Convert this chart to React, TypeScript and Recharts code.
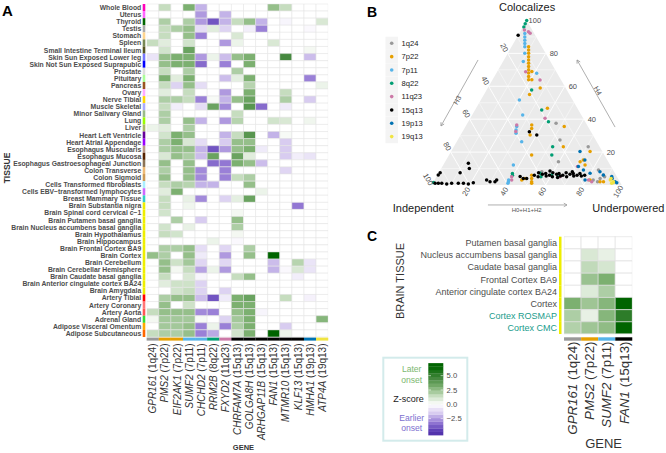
import React from 'react';
import { BarChart, Bar, XAxis, YAxis, Cell, ComposedChart, Area, Scatter, ReferenceLine } from 'recharts';

const FONT = '"Liberation Sans", Arial, Helvetica, sans-serif';

// ---------- Panel A data ----------
const tissues = [
  'Whole Blood', 'Uterus', 'Thyroid', 'Testis', 'Stomach', 'Spleen', 'Small Intestine Terminal Ileum',
  'Skin Sun Exposed Lower leg', 'Skin Not Sun Exposed Suprapubic', 'Prostate', 'Pituitary', 'Pancreas',
  'Ovary', 'Nerve Tibial', 'Muscle Skeletal', 'Minor Salivary Gland', 'Lung', 'Liver', 'Heart Left Ventricle',
  'Heart Atrial Appendage', 'Esophagus Muscularis', 'Esophagus Mucosa', 'Esophagus Gastroesophageal Junction',
  'Colon Transverse', 'Colon Sigmoid', 'Cells Transformed fibroblasts', 'Cells EBV\u2212transformed lymphocytes',
  'Breast Mammary Tissue', 'Brain Substantia nigra', 'Brain Spinal cord cervical c\u22121',
  'Brain Putamen basal ganglia', 'Brain Nucleus accumbens basal ganglia', 'Brain Hypothalamus',
  'Brain Hippocampus', 'Brain Frontal Cortex BA9', 'Brain Cortex', 'Brain Cerebellum',
  'Brain Cerebellar Hemisphere', 'Brain Caudate basal ganglia', 'Brain Anterior cingulate cortex BA24',
  'Brain Amygdala', 'Artery Tibial', 'Artery Coronary', 'Artery Aorta', 'Adrenal Gland',
  'Adipose Visceral Omentum', 'Adipose Subcutaneous',
];
const B = '#EEEE00';
const tissueColors = [
  '#FF00BB', '#FF66FF', '#006600', '#AAAAAA', '#FFD58F', '#778855', '#555522', '#7777FF', '#0000FF',
  '#DDDDDD', '#AAFF99', '#995522', '#FFAAFF', '#FFD700', '#AAAAFF', '#99BB88', '#99FF00', '#AABB66',
  '#660099', '#9900FF', '#BB9988', '#552200', '#8B7355', '#EEBB77', '#CC9955', '#AAEEFF', '#CC66FF',
  '#33CCCC', B, B, B, B, B, B, B, B, B, B, B, B, B, '#FF0000', '#FF7777', '#FF5555', '#33DD33',
  '#FFAA00', '#FF6600',
];
const genesA = ['GPR161', 'PMS2', 'EIF2AK1', 'SUMF2', 'CHCHD2', 'RRM2B', 'FXYD2', 'CHRFAM7A', 'GOLGA8H',
  'ARHGAP11B', 'FAN1', 'MTMR10', 'KLF13', 'HMHA1', 'ATP4A'];
const lociA = ['1q24', '7p22', '7p22', '7p11', '7p11', '8q22', '11q23', '15q13', '15q13', '15q13', '15q13',
  '15q13', '15q13', '19p13', '19q13'];
const zA: number[][] = [
  [0, 1.5, 0, 3, -2, 0, 0, 0, 0, 0, 2.5, 1.5, 0, 0, 0],
  [0, 0, 0, 0, -2.5, 0, -2, 0, 0, 0, 0, 0, 0, 0, 0],
  [0, 2, 0, 2, -2.5, -4, -2, 1.5, 2.5, -2, 0, -0.3, 0, 0, 1],
  [0, 1.5, 2, 2.5, -1, 0.8, -1.3, 0, -0.5, -3, 0, 0, 0, -0.2, 0],
  [0, 1.5, 0, 2.5, -3, 0, 0, 1, 0, 0, 0, 0, 0, 0, 0],
  [1.5, 0.8, 0, 1.2, 0, 0, -2.5, 0.5, 0, 0, 1, 0, 0, 0, 0],
  [0, 1.2, 0, 3.5, 0, 0, 0, 0, 0, 0, 0, 0, 0, 0.3, 0],
  [-0.8, 2.5, 3, 3, -2.5, 0.5, -1.8, 2.5, 3, 0, 0, 4.5, 0, -1.8, 0],
  [0, 2.5, 3, 3, -3.5, 0, -3, 0, 3, 0, 0, 0, 0, 0, 0],
  [0, 1.5, 0, 2, 0, 0, 0, 2, 0, 0, 0, 0, 0, 0, 0],
  [0, 3, 0.8, 3, 0, 0, -1.8, 0.7, 3, 0, 0, 0, 0, -3, 0],
  [0, 1.5, -1.3, 2.5, -1, 0, 0, 0, 1.8, 0, 0, 0, 0, 0, 0.5],
  [0, 0.8, 0, 1.5, 0, 0, -2.5, 0, 3, 0, 0, 1.5, 0, 0, 0],
  [0, 2, 2, 1.5, -3, 0.2, -2, 2.5, 3.5, 0, 0, 2, 0, -1.5, 0],
  [0, 1.5, -0.5, 0, -1, 3.5, -2.8, 0, 4, -3.5, 0, -0.6, 0, 0, 0],
  [0, 2, 0, 0, 0, 0, 0, 1.5, 0, 0, 0, 0, 0, 0, 0],
  [0, 2, 0, 2.5, -2, 0, -2.5, 1.8, 0, 0, 1.2, 1, 0, 0.4, 0],
  [0.5, 0.8, 0, 2, 0, 0, 0, 0, 0, 0, 0, 0, 0, 0, 0],
  [0, 1.2, 3, 2.5, 0, 0, -2, 1.5, 4, 0, -2, 0.2, 0, 0, 0],
  [0, 2, 3, 1, -1, 0, -1.5, 2.5, 2.5, 0, 0, -1.5, 0, 0, 0],
  [0, 2, 2.5, 2.5, -2, -4, -2.5, 2.5, 3, -0.6, 0, -1.5, 0, 0, 0],
  [0, 1, 2.5, 2, -1.8, 3.5, 0, 3.5, 0.8, 0, 0, -1.5, -0.5, -0.8, 0],
  [0, 2.5, 0, 2.5, 0, -3.5, -3.2, 3, 2.5, -1.8, 0, 0, 0, 0, 0],
  [0, 2, 0, 2.5, -2.8, 0, -3, 0, 0, 0, 0, -1.2, 0, 0, 0],
  [0, 2.5, 0, 2.5, -2.8, 0, -3, 1.5, 2, 0, 0, 0, 0, 0, 0],
  [0, 1.5, 2, 1.8, -2, -2, 0, 0, 2.5, 0, 0, 0, 0, 0, 0],
  [0, 0.8, 3, 0, 0, 0, 0, 0, 0, 0.5, 0, 0, 0, 0, 0],
  [0, 1.5, 0, 0.6, -2.8, 0, -1.3, 0.7, 3.5, 0, 0, 0, 0, 0, 0],
  [0, 1.5, 0, 0.4, 0, 0, 0, 0, 0, 0, 0, 0, -3.2, 0, 0],
  [0, 1.2, 0, 0, 0, 0, 0, 0.3, 0, 0, 0, 0, 0, 0, 0],
  [0, 0, 2, 0, -1.5, 0, 0, 2.5, 0, 0, 0, 0, 0, 0, 0],
  [0, 1.2, 0, 0.6, 0, 0, 0, 2, 0, 0, 0, 0, 0, 0, 0],
  [0, 1.5, 1.2, 0, 0, 0, 0, 0.3, 0, 0, 0, 0, 0, 0, 0],
  [0, 0, 0, 0, 0, 0.5, 0, -0.2, 0, 0, 0, 0, 0, 0, 0],
  [0, 2, 2, 2.5, -1, 0, -1.2, 0, 2, 0, 0, 0, 0, 0, 0],
  [2.5, 2, 0, 2.5, -0.6, 0, -2.5, 0, 2.5, 0, 6.5, 0, 0, 0, 0],
  [0, 2.5, 1.3, 2.2, -1.2, 0, -1.2, 0, 0, 0, -1.8, 0, 1.8, -0.8, 0],
  [0, 2.5, 0.3, 1.5, -2.3, 0.5, -2.5, 0, 0, 0, -2, -0.2, 1, -0.8, 0],
  [0, 1.5, 0, 1, -0.3, 0, 0, 1.5, 2.5, 0, 0, 0, -0.5, 0, 0],
  [0, 0.8, 1.3, 1.3, -1.3, 0, 0, 0, 0, 0, 0, 0, 0, 0, 0],
  [0, 0, 1.2, 1.5, -1.3, 0, -1.3, 0, 0, 0, 0, 0, 0, 0, 0],
  [0, 2, 2.5, 2.5, -1.8, -4, -0.6, 3, 3.5, 0, 0, 1.5, 0, -0.4, 0],
  [0, 2.5, 0, 1.3, 0, 0, 0, 3, 3, 0, 0, 0, 0, 0, 0],
  [1.5, 2.5, 2.5, 2.5, -2.8, -3, 0, 2.5, 3, -0.3, 0, 0, 0, 0, 0],
  [0.3, 2.2, 2.2, 2.2, 0.2, 0, -1.3, 2.2, 3, 0, 0, 0, 0, 0, 2.8],
  [0, 2.2, 2.2, 2.5, -3, 0.5, -3, 2, 3, 0, 0, -1.5, 0, 0, 0],
  [1.5, 2, 2, 2.5, -3, -2.2, 0, 1.2, 3, 0, 6.5, 0.5, 0, 0, 0],
];

// ---------- Panel C data ----------
const brainTissuesC = ['Putamen basal ganglia', 'Nucleus accumbens basal ganglia', 'Caudate basal ganglia',
  'Frontal Cortex BA9', 'Anterior cingulate cortex BA24', 'Cortex', 'Cortex ROSMAP', 'Cortex CMC'];
const genesC = ['GPR161', 'PMS2', 'SUMF2', 'FAN1'];
const lociC = ['1q24', '7p22', '7p11', '15q13'];
const zC: number[][] = [
  [0, 0, 0, 0],
  [0, 1.0, 0.6, 0],
  [0, 1.6, 1.1, 0],
  [0, 2.4, 3.0, 0],
  [0, 0.9, 2.0, 0],
  [3.0, 2.3, 2.8, 6.5],
  [2.0, 0.6, 2.8, 5.2],
  [1.9, 2.3, 2.6, 6.5],
];

// ---------- Panel B data: [H4, H0+H1+H2] percentages (H3 = remainder) ----------
const lociB = ['1q24', '7p22', '7p11', '8q22', '11q23', '15q13', '19p13', '19q13'];
const locusColor: Record<string, string> = {
  '1q24': '#999999', '7p22': '#E69F00', '7p11': '#56B4E9', '8q22': '#009E73',
  '11q23': '#CC79A7', '15q13': '#000000', '19p13': '#0072B2', '19q13': '#F0E442',
};
const pts1q24 = [[37.5, 46.7], [27.4, 53.8], [23.3, 70.7], [9.1, 83.2], [4, 86.6], [6, 87.3], [2, 86.3],
  [14.2, 59.6], [8.1, 53.9], [3, 83.5], [5, 88.5]];
const pts7p22 = [[84, 9], [82, 10], [80, 11], [78, 12], [76, 13], [74, 14], [72, 15], [70, 16], [68, 17],
  [66, 18], [64, 19], [69, 18.2], [64, 20.7], [55, 24], [59, 27.6], [46.6, 37.6], [35.5, 52], [36.5, 34.4],
  [34.4, 35.4], [30.4, 36.6], [23.3, 57.6], [18.2, 43.5], [20.3, 73.2], [6, 49.6], [4, 50.6], [2, 51.6],
  [1, 52.1], [3, 45.9], [4, 47.1], [14.2, 71], [15.2, 72.2], [12.2, 74.6], [2, 87.6], [2, 89.4], [3, 81.8]];
const pts7p11 = [[92, 3], [90, 4], [88, 5], [86, 6], [84, 7], [80, 9], [75, 10.7], [67.9, 21.3], [51.7, 20.3],
  [42.6, 26.6], [35.5, 27], [33.4, 27.7], [31.4, 28.7], [26.3, 34.2], [12.2, 36.9], [2, 39.4], [1, 39.6],
  [3, 39]];
const pts8q22 = [[100, 0], [98, 0.2], [96, 0.5], [57.8, 23.7], [45.6, 35.1], [38.5, 42.2], [23.3, 52],
  [18.2, 54.1], [7, 39], [6, 39.5], [7.1, 53.5], [6.1, 60.1], [5.1, 64.1], [1.5, 0.2], [5, 55]];
const pts11q23 = [[94.2, 1.7], [93.2, 4.3], [92.2, 5.7], [68.9, 15], [63.8, 25.1], [40.5, 39.4], [36.5, 26.5],
  [32.5, 28], [5, 39.6], [3, 40.6], [11.2, 71.1], [3, 81], [2, 83.2], [5, 65]];
const pts15q13 = [[91, 0], [32.4, 35.2], [30.4, 40.1], [1, 1.3], [1, 3], [1, 4.8], [0.6, 7.6], [1, 10],
  [1, 13.5], [1, 16.2], [0.6, 19], [1.4, 21.2], [7.5, 0.7], [6.1, 0.4], [7.5, 11.2], [13.2, 12.7],
  [10, 14.8], [3, 27.4], [2, 29.7], [2, 32.3], [3, 32.7], [5.1, 44], [4, 46.2], [4, 48],
  [6, 51], [7.5, 52.5], [5, 53.5], [6.5, 55], [7, 56.5], [5.5, 57.5], [6, 59], [7.5, 60], [5, 61],
  [6.5, 62.5], [7, 63.5], [5.5, 65], [6, 66], [7.5, 67], [5, 68.5], [6.5, 69.5], [7, 71], [5.5, 72],
  [6, 73.5], [7, 74.5], [5.5, 76], [6, 77.5], [8, 70], [8.5, 58], [4.5, 64]];
const pts19p13 = [[20.3, 67.9], [2, 95.5], [1.4, 96.7], [6.1, 87.3], [8.1, 84.5], [9.1, 75.3], [11.2, 71.6],
  [7.1, 79.8], [3, 79.2], [5.1, 92.2], [4, 93], [15.2, 73]];
const pts19q13 = [[3, 92.5], [2, 94.6], [1, 94.2], [1.4, 94.8], [4, 92.4]];
const pointsB: Record<string, number[][]> = {
  '1q24': pts1q24, '7p22': pts7p22, '7p11': pts7p11, '8q22': pts8q22,
  '11q23': pts11q23, '15q13': pts15q13, '19p13': pts19p13, '19q13': pts19q13,
};
const ternTicks = [20, 40, 60, 80, 100];
const gridVals = [10, 20, 30, 40, 50, 60, 70, 80, 90];

// ---------- helpers ----------
function hex(h: string) {
  const n = parseInt(h.slice(1), 16);
  return [(n >> 16) & 255, (n >> 8) & 255, n & 255];
}
function mix(a: string, b: string, t: number) {
  const A = hex(a), Bc = hex(b);
  const c = A.map((v, i) => Math.round(v + (Bc[i] - v) * t));
  return `rgb(${c[0]},${c[1]},${c[2]})`;
}
const greenStops: [number, string][] = [[0, '#ffffff'], [1.5, '#c6ddbf'], [3, '#7cb070'], [4.5, '#46893f'], [6.5, '#006400']];
const purpleStops: [number, string][] = [[0, '#ffffff'], [1.5, '#d8ccf0'], [3, '#9a80d7'], [4.5, '#5e40b7'], [6, '#40209c']];
function zColor(z: number) {
  if (Math.abs(z) < 0.05) return '#ffffff';
  const stops = z > 0 ? greenStops : purpleStops;
  const v = Math.abs(z);
  for (let i = 1; i < stops.length; i++) {
    if (v <= stops[i][0]) {
      const t = (v - stops[i - 1][0]) / (stops[i][0] - stops[i - 1][0]);
      return mix(stops[i - 1][1], stops[i][1], t);
    }
  }
  return stops[stops.length - 1][1];
}
const tern = (a: number, c: number) => ({ x: c + a / 2, y: a * 0.8660254 });

// ---------- Panel A ----------
const rowsA = tissues.map((t) => {
  const o: any = { tissue: t };
  genesA.forEach((_, k) => { o['c' + k] = 1; });
  return o;
});
const TissueTick = (props: any) => {
  const { x, y, payload } = props;
  const i = tissues.indexOf(payload.value);
  return (
    <g>
      <rect x={x - 4} y={y - 3.55} width={2.6} height={7.1} fill={tissueColors[i]} />
      <text x={x - 5.5} y={y} dy="0.36em" textAnchor="end" fontSize={6.8} fontWeight="bold" fill="#4d4d4d" fontFamily={FONT}>
        {payload.value}
      </text>
    </g>
  );
};
const GeneTickA = (props: any) => {
  const { x, y, payload } = props;
  const k = Math.floor(payload.value);
  const tx = x + 3.6, ty = y + 6.5;
  return (
    <g>
      <rect x={x - 6.1} y={y + 0.6} width={12.2} height={3} fill={locusColor[lociA[k]]} />
      <text x={tx} y={ty} transform={`rotate(-90, ${tx}, ${ty})`} textAnchor="end" fontSize={10} fill="#333" fontFamily={FONT}>
        <tspan fontStyle="italic">{genesA[k]}</tspan> ({lociA[k]})
      </text>
    </g>
  );
};
function HeatA() {
  return (
    <BarChart width={340} height={453} data={rowsA} layout="vertical" barCategoryGap={0}
      margin={{ top: 4, right: 11.8, bottom: 0, left: 0 }}>
      <XAxis type="number" domain={[0, 15]} ticks={genesA.map((_, k) => k + 0.5)} interval={0}
        tick={<GeneTickA />} tickLine={false} axisLine={false} tickSize={0} tickMargin={0} height={116} allowDataOverflow />
      <YAxis type="category" dataKey="tissue" width={146.7} interval={0} tick={<TissueTick />}
        tickLine={false} axisLine={false} tickSize={0} tickMargin={0} />
      {genesA.map((g, k) => (
        <Bar key={g} dataKey={'c' + k} stackId="s" isAnimationActive={false} stroke="#e3e3e3" strokeWidth={0.5}>
          {zA.map((row, i) => <Cell key={i} fill={zColor(row[k])} />)}
        </Bar>
      ))}
    </BarChart>
  );
}

// ---------- Panel C ----------
const rowsC = brainTissuesC.map((t) => {
  const o: any = { tissue: t };
  genesC.forEach((_, k) => { o['c' + k] = 1; });
  return o;
});
const BrainTick = (props: any) => {
  const { x, y, payload } = props;
  const i = brainTissuesC.indexOf(payload.value);
  const teal = i >= 6;
  return (
    <g>
      <rect x={x - 5} y={y - 6.1} width={2.5} height={12.2} fill="#EEEE00" />
      <text x={x - 7} y={y} dy="0.36em" textAnchor="end" fontSize={9} fill={teal ? '#1a9c8c' : '#4d4d4d'} fontFamily={FONT}>
        {payload.value}
      </text>
    </g>
  );
};
const GeneTickC = (props: any) => {
  const { x, y, payload } = props;
  const k = Math.floor(payload.value);
  const tx = x + 4.8, ty = y + 7.5;
  return (
    <g>
      <rect x={x - 8.5} y={y + 3.3} width={17} height={3.4} fill={locusColor[lociC[k]]} />
      <text x={tx} y={ty} transform={`rotate(-90, ${tx}, ${ty})`} textAnchor="end" fontSize={13.3} fill="#333" fontFamily={FONT}>
        <tspan fontStyle="italic">{genesC[k]}</tspan> ({lociC[k]})
      </text>
    </g>
  );
};
function HeatC() {
  return (
    <BarChart width={260} height={223} data={rowsC} layout="vertical" barCategoryGap={0}
      margin={{ top: 6.7, right: 7.7, bottom: 0, left: 0 }}>
      <XAxis type="number" domain={[0, 4]} ticks={genesC.map((_, k) => k + 0.5)} interval={0}
        tick={<GeneTickC />} tickLine={false} axisLine={false} tickSize={0} tickMargin={0} height={119} allowDataOverflow />
      <YAxis type="category" dataKey="tissue" width={184} interval={0} tick={<BrainTick />}
        tickLine={false} axisLine={false} tickSize={0} tickMargin={0} />
      {genesC.map((g, k) => (
        <Bar key={g} dataKey={'c' + k} stackId="s" isAnimationActive={false} stroke="#dedede" strokeWidth={0.6}>
          {zC.map((row, i) => <Cell key={i} fill={zColor(row[k])} />)}
        </Bar>
      ))}
    </BarChart>
  );
}

// ---------- Panel B ----------
const triangle = [{ x: 0, y: 0 }, { x: 50, y: 86.60254 }, { x: 100, y: 0 }];
const gridSegs: { p: { x: number; y: number }[]; major: boolean }[] = [];
gridVals.forEach((v) => {
  const major = v % 20 === 0;
  gridSegs.push({ p: [tern(v, 0), tern(v, 100 - v)], major });
  gridSegs.push({ p: [tern(0, v), tern(100 - v, v)], major });
  gridSegs.push({ p: [tern(0, 100 - v), tern(100 - v, 0)], major });
});
const labelsB: any[] = [
  ...ternTicks.map((v) => ({ x: 100 - v / 2 + 4.3, y: 0.866 * v, label: String(v), rot: 0, size: 7.5, fill: '#4d4d4d' })),
  ...ternTicks.map((v) => ({ x: (100 - v) / 2 - 1.8, y: 0.866 * (100 - v) + 3.0, label: String(v), rot: 60, size: 7.5, fill: '#4d4d4d' })),
  ...ternTicks.map((v) => ({ x: v - 1.85, y: -3.4, label: String(v), rot: -60, size: 7.5, fill: '#4d4d4d' })),
  { x: 50.2, y: 93.8, label: 'Colocalizes', rot: 0, size: 11, fill: '#1a1a1a' },
  { x: -4.4, y: -12.3, label: 'Independent', rot: 0, size: 11, fill: '#1a1a1a' },
  { x: 103.5, y: -12.3, label: 'Underpowered', rot: 0, size: 11, fill: '#1a1a1a' },
  { x: 50, y: -13.3, label: 'H0+H1+H2', rot: 0, size: 6, fill: '#555' },
  { x: 13.5, y: 44.7, label: 'H3', rot: -60, size: 7, fill: '#555' },
  { x: 87.4, y: 49.6, label: 'H4', rot: 60, size: 7, fill: '#555' },
];
const arrowsB = [
  { from: { x: 24.4, y: 65.8 }, to: { x: 4.9, y: 31.1 }, ang: 119.3 },
  { from: { x: 96.5, y: 30.5 }, to: { x: 76.5, y: 65.8 }, ang: -119.6 },
  { from: { x: 29.6, y: -10.5 }, to: { x: 71.2, y: -10.5 }, ang: 0 },
];
const arrowHeads = arrowsB.map((a) => ({ x: a.to.x, y: a.to.y, ang: a.ang }));

const TextShape = (p: any) => {
  const d = p.payload;
  return (
    <text x={p.cx} y={p.cy} dy="0.35em" textAnchor="middle" fontSize={d.size} fill={d.fill} fontFamily={FONT}
      transform={`rotate(${d.rot}, ${p.cx}, ${p.cy})`}>
      {d.label}
    </text>
  );
};
const HeadShape = (p: any) => (
  <path d="M -3.2 -1.8 L 0 0 L -3.2 1.8" fill="none" stroke="#9a9a9a" strokeWidth={0.8}
    transform={`translate(${p.cx}, ${p.cy}) rotate(${p.payload.ang})`} />
);

function Ternary() {
  return (
    <ComposedChart width={286} height={225} data={triangle} margin={{ top: 0, right: 0, bottom: 0, left: 0 }}>
      <XAxis type="number" dataKey="x" domain={[-27.2, 123.3]} hide allowDataOverflow />
      <YAxis type="number" dataKey="y" domain={[-21.05, 97.37]} hide allowDataOverflow />
      <Area type="linear" dataKey="y" baseValue={0} fill="#ebebeb" fillOpacity={1} stroke="none"
        isAnimationActive={false} dot={false} activeDot={false} />
      {gridSegs.map((s, i) => (
        <ReferenceLine key={'g' + i} segment={s.p} stroke="#ffffff" strokeWidth={s.major ? 0.9 : 0.45} ifOverflow="visible" />
      ))}
      {arrowsB.map((a, i) => (
        <ReferenceLine key={'a' + i} segment={[a.from, a.to]} stroke="#9a9a9a" strokeWidth={0.8} ifOverflow="visible" />
      ))}
      <Scatter data={arrowHeads} shape={<HeadShape />} isAnimationActive={false} />
      {lociB.map((l) => (
        <Scatter key={l} name={l} data={pointsB[l].map(([a, c]) => tern(a, c))} isAnimationActive={false}
          shape={(p: any) => <circle cx={p.cx} cy={p.cy} r={1.75} fill={locusColor[l]} />} />
      ))}
      <Scatter data={labelsB} shape={<TextShape />} isAnimationActive={false} />
    </ComposedChart>
  );
}

// ---------- Overlay (titles, legends) ----------
const legendSteps = Array.from({ length: 21 }, (_, i) => -5.4 + i * 0.6);
function Overlay() {
  const zToY = (z: number) => 404.3 - z * 5.72;
  return (
    <svg width={666} height={453} style={{ position: 'absolute', left: 0, top: 0, pointerEvents: 'none' }} fontFamily={FONT}>
      <text x={2} y={16} fontSize={15} fontWeight="bold" fill="#000">A</text>
      <text x={367} y={17} fontSize={14} fontWeight="bold" fill="#000">B</text>
      <text x={367} y={241} fontSize={14} fontWeight="bold" fill="#000">C</text>
      <text x={9.5} y={168} transform="rotate(-90, 9.5, 168)" textAnchor="middle" fontSize={8.5} fontWeight="bold" fill="#333">TISSUE</text>
      <text x={243.5} y={450} textAnchor="middle" fontSize={7.5} fontWeight="bold" fill="#333">GENE</text>
      <text x={404} y={281} transform="rotate(-90, 404, 281)" textAnchor="middle" fontSize={11} fill="#333">BRAIN TISSUE</text>
      <text x={603.6} y={448} textAnchor="middle" fontSize={13} fill="#333">GENE</text>
      {/* Panel B legend */}
      {lociB.map((l, i) => {
        const cy = 43.3 + i * 13.33;
        return (
          <g key={l}>
            <rect x={385.5} y={cy - 6.6} width={12.5} height={13.2} fill="#f4f4f4" />
            <circle cx={391.7} cy={cy} r={1.8} fill={locusColor[l]} />
            <text x={401.5} y={cy} dy="0.35em" fontSize={7.6} fill="#1a1a1a">{l}</text>
          </g>
        );
      })}
      {/* Panel C colour legend */}
      <rect x={383.3} y={357.7} width={84} height={83} fill="#fff" stroke="#d3ebeb" strokeWidth={2} />
      {legendSteps.map((z, i) => (
        <rect key={i} x={428.3} y={zToY(z + 0.6)} width={15} height={0.6 * 5.72 + 0.2} fill={zColor(z + 0.3)} />
      ))}
      {[5, 2.5, 0, -2.5].map((v) => (
        <g key={v}>
          <line x1={428.3} x2={431} y1={zToY(v)} y2={zToY(v)} stroke="#fff" strokeWidth={0.6} />
          <line x1={440.6} x2={443.3} y1={zToY(v)} y2={zToY(v)} stroke="#fff" strokeWidth={0.6} />
          <text x={446.5} y={zToY(v)} dy="0.35em" fontSize={7.7} fill="#4d4d4d">{v === 0 ? '0.0' : v < 0 ? '\u22122.5' : v.toFixed(1)}</text>
        </g>
      ))}
      <text x={411.7} y={369} dy="0.35em" textAnchor="middle" fontSize={8.6} fill="#7cb870">Later</text>
      <text x={411.7} y={380.3} dy="0.35em" textAnchor="middle" fontSize={8.6} fill="#7cb870">onset</text>
      <text x={408.5} y={398.5} dy="0.35em" textAnchor="middle" fontSize={9} fill="#1a1a1a">Z-score</text>
      <text x={411.7} y={417.7} dy="0.35em" textAnchor="middle" fontSize={8.6} fill="#7d6fcf">Earlier</text>
      <text x={411.7} y={428} dy="0.35em" textAnchor="middle" fontSize={8.6} fill="#7d6fcf">onset</text>
    </svg>
  );
}

export default function App() {
  return (
    <div style={{ position: 'absolute', left: 0, top: 0, width: 666, height: 453, background: '#fff', overflow: 'hidden', fontFamily: FONT }}>
      <div style={{ position: 'absolute', left: 0, top: 0 }}><HeatA /></div>
      <div style={{ position: 'absolute', left: 380, top: 0 }}><Ternary /></div>
      <div style={{ position: 'absolute', left: 380, top: 230 }}><HeatC /></div>
      <Overlay />
    </div>
  );
}
